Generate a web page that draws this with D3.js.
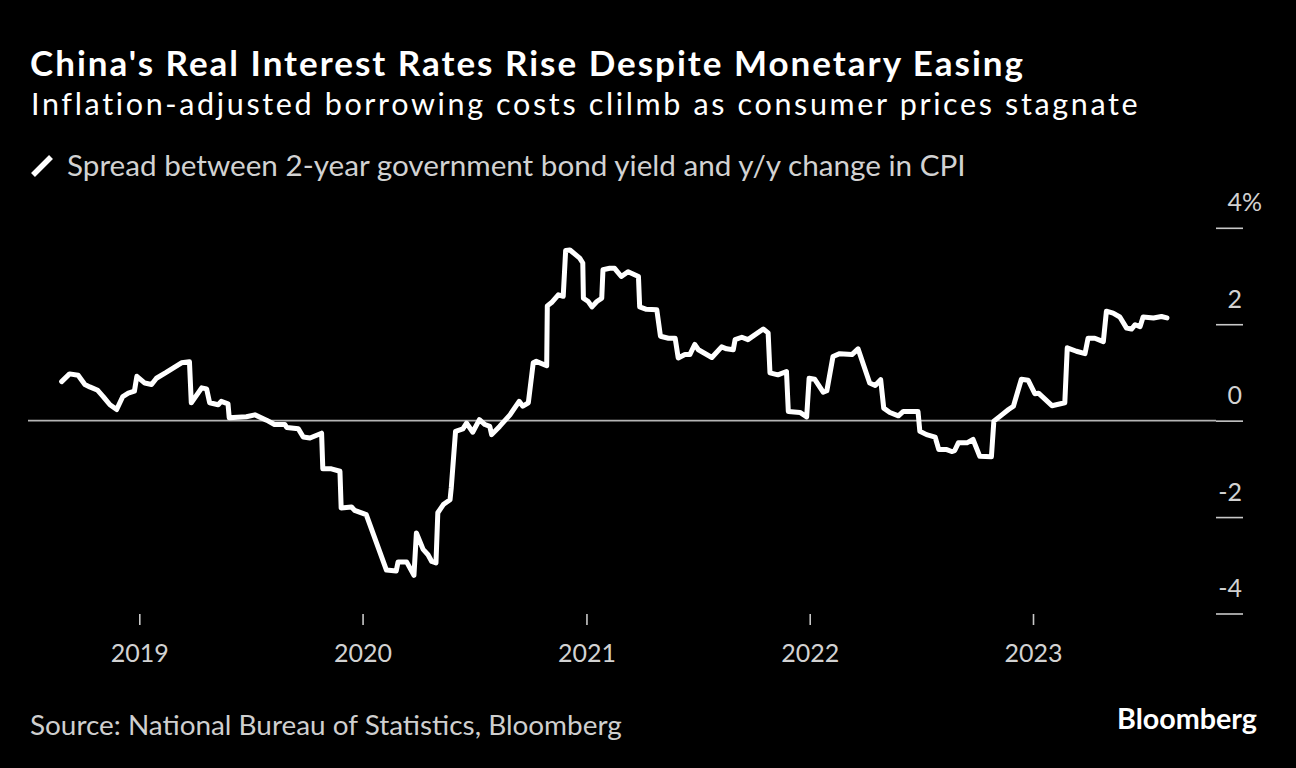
<!DOCTYPE html>
<html>
<head>
<meta charset="utf-8">
<script src="https://cdn.jsdelivr.net/npm/d3@7"></script>
<style>
  html, body { margin: 0; padding: 0; background: #000; }
  svg { display: block; }
  text { font-family: Lato, "Noto Sans", sans-serif; }
</style>
</head>
<body>
<svg id="chart" width="1296" height="768"></svg>
<script>
const title = "China's Real Interest Rates Rise Despite Monetary Easing";
const subtitle = "Inflation-adjusted borrowing costs clilmb as consumer prices stagnate";
const legendLabel = "Spread between 2-year government bond yield and y/y change in CPI";
const sourceText = "Source: National Bureau of Statistics, Bloomberg";
const brand = "Bloomberg";

const yTicks = [4, 2, 0, -2, -4];
const xTicks = ["2019-01-01", "2020-01-01", "2021-01-01", "2022-01-01", "2023-01-01"];
const xTickLabels = ["2019", "2020", "2021", "2022", "2023"];

const dates = [
"2018-08-27","2018-09-09","2018-09-23","2018-10-04","2018-10-12","2018-10-25","2018-11-03","2018-11-14","2018-11-25","2018-12-05",
"2018-12-14","2018-12-24","2018-12-28","2019-01-10","2019-01-21","2019-01-29","2019-02-14","2019-03-11","2019-03-24","2019-03-27",
"2019-04-13","2019-04-21","2019-04-26","2019-05-10","2019-05-15","2019-05-26","2019-05-28","2019-06-25","2019-07-09","2019-07-28",
"2019-08-10","2019-08-27","2019-08-30","2019-09-18","2019-09-26","2019-10-07","2019-10-26","2019-10-28","2019-11-11","2019-11-25",
"2019-11-27","2019-12-14","2019-12-19","2020-01-07","2020-02-09","2020-02-25","2020-02-28","2020-03-13","2020-03-25","2020-03-29",
"2020-04-09","2020-04-17","2020-04-23","2020-04-30","2020-05-03","2020-05-12","2020-05-23","2020-05-25","2020-06-01","2020-06-13",
"2020-06-19","2020-06-29","2020-07-10","2020-07-19","2020-07-27","2020-07-30","2020-08-12","2020-08-29","2020-09-13","2020-09-19",
"2020-09-28","2020-10-06","2020-10-11","2020-10-28","2020-10-29","2020-11-05","2020-11-16","2020-11-24","2020-11-28","2020-12-05",
"2020-12-21","2020-12-26","2020-12-27","2021-01-04","2021-01-10","2021-01-18","2021-01-26","2021-01-28","2021-02-08","2021-02-16",
"2021-02-27","2021-03-10","2021-03-27","2021-03-29","2021-04-09","2021-04-26","2021-05-02","2021-05-15","2021-05-26","2021-05-31",
"2021-06-11","2021-06-19","2021-06-27","2021-07-03","2021-07-25","2021-08-10","2021-08-18","2021-08-29","2021-09-01","2021-09-12",
"2021-09-22","2021-10-17","2021-10-25","2021-10-28","2021-11-10","2021-11-24","2021-11-27","2021-12-16","2021-12-27","2021-12-31",
"2022-01-09","2022-01-23","2022-01-29","2022-02-08","2022-02-19","2022-03-11","2022-03-21","2022-04-09","2022-04-18","2022-04-27",
"2022-05-02","2022-05-12","2022-05-26","2022-06-03","2022-06-27","2022-06-30","2022-07-11","2022-07-25","2022-07-31","2022-08-13",
"2022-08-21","2022-08-26","2022-09-01","2022-09-15","2022-09-25","2022-10-06","2022-10-25","2022-10-29","2022-11-11","2022-11-22",
"2022-11-30","2022-12-13","2022-12-24","2023-01-04","2023-01-10","2023-02-01","2023-02-22","2023-02-26","2023-03-13","2023-03-27",
"2023-04-01","2023-04-12","2023-04-26","2023-05-01","2023-05-12","2023-05-23","2023-06-03","2023-06-11","2023-06-17","2023-06-25",
"2023-06-30","2023-07-17","2023-07-30","2023-08-08"
];

const spread = [
0.81,0.97,0.94,0.75,0.70,0.63,0.50,0.33,0.23,0.50,
0.57,0.61,0.92,0.78,0.75,0.88,1.00,1.20,1.22,0.37,
0.68,0.66,0.37,0.33,0.40,0.35,0.06,0.08,0.12,0.01,
-0.08,-0.08,-0.14,-0.17,-0.34,-0.36,-0.26,-1.00,-1.00,-1.05,
-1.81,-1.79,-1.86,-1.95,-3.10,-3.12,-2.93,-2.93,-3.21,-2.33,
-2.67,-2.78,-2.92,-2.95,-1.91,-1.74,-1.64,-1.39,-0.22,-0.17,
-0.05,-0.24,0.02,-0.08,-0.12,-0.29,-0.12,0.12,0.40,0.30,
0.37,1.20,1.23,1.14,2.38,2.45,2.61,2.58,3.53,3.54,
3.37,3.27,2.54,2.47,2.36,2.47,2.54,3.13,3.16,3.16,
2.99,3.09,2.99,2.36,2.31,2.30,1.75,1.71,1.71,1.30,
1.37,1.37,1.58,1.47,1.31,1.53,1.49,1.47,1.68,1.73,
1.68,1.90,1.82,0.99,0.95,1.02,0.19,0.17,0.08,0.88,
0.86,0.59,0.62,1.33,1.39,1.37,1.49,0.78,0.73,0.85,
0.26,0.17,0.10,0.19,0.19,-0.22,-0.29,-0.34,-0.60,-0.60,
-0.64,-0.62,-0.46,-0.46,-0.39,-0.74,-0.75,-0.01,0.12,0.23,
0.30,0.86,0.84,0.56,0.57,0.31,0.37,1.51,1.44,1.39,
1.71,1.71,1.64,2.27,2.23,2.15,1.92,1.90,1.99,1.95,
2.15,2.13,2.16,2.13
];

const parse = d3.utcParse("%Y-%m-%d");
const data = dates.map((d, i) => ({ date: parse(d), value: spread[i] }));

const svg = d3.select("#chart");
svg.append("rect").attr("width", 1296).attr("height", 768).attr("fill", "#000");

// Fit text to a target width; cap font size and spread letters if needed.
function fit(sel, w, maxSize) {
  const n = sel.node();
  const fs = parseFloat(sel.attr("font-size"));
  const cur = n.getComputedTextLength();
  if (cur <= 0) return sel;
  let size = fs * w / cur;
  if (maxSize && size > maxSize) {
    size = maxSize;
    sel.attr("font-size", size.toFixed(2));
    const len = n.getComputedTextLength();
    const chars = sel.text().length;
    sel.attr("letter-spacing", ((w - len) / chars).toFixed(3));
  } else {
    sel.attr("font-size", size.toFixed(2));
  }
  return sel;
}

// Header
fit(svg.append("text").attr("x", 30).attr("y", 76).attr("fill", "#fff")
  .attr("font-weight", 700).attr("font-size", 35).text(title), 995, 35);
fit(svg.append("text").attr("x", 31).attr("y", 115).attr("fill", "#fff")
  .attr("font-weight", 400).attr("font-size", 30.5).text(subtitle), 1110, 30.5);

// Legend
svg.append("line").attr("x1", 33).attr("y1", 175).attr("x2", 51).attr("y2", 157)
  .attr("stroke", "#fff").attr("stroke-width", 5.5);
fit(svg.append("text").attr("x", 67).attr("y", 176).attr("fill", "#d2d2d2")
  .attr("font-size", 28).text(legendLabel), 899);

// Scales
const x = d3.scaleUtc()
  .domain([parse(xTicks[0]), parse(xTicks[xTicks.length - 1])])
  .range([139.3, 1033]);
const y = d3.scaleLinear().domain([-4, 4]).range([613.5, 227.8]);

// Zero line
svg.append("line").attr("x1", 28).attr("x2", 1216).attr("y1", y(0)).attr("y2", y(0))
  .attr("stroke", "#b5b5b5").attr("stroke-width", 1.6);

// Y axis
const yAxis = d3.axisLeft(y).tickValues(yTicks).tickSize(27).tickFormat(d => d);
const gy = svg.append("g").attr("transform", "translate(1243,0)").call(yAxis);
gy.select(".domain").remove();
gy.selectAll(".tick line").attr("stroke", "#c8c8c8").attr("stroke-width", 1.6);
gy.selectAll(".tick text")
  .attr("x", -1).attr("dy", 0).attr("y", -17)
  .attr("text-anchor", "end")
  .attr("fill", "#d2d2d2").attr("font-size", 25)
  .attr("font-family", "Lato, 'Noto Sans', sans-serif");
gy.selectAll(".tick").filter(d => d === yTicks[0]).append("text")
  .attr("x", -1).attr("y", -17).attr("text-anchor", "start")
  .attr("fill", "#d2d2d2").attr("font-size", 25)
  .attr("font-family", "Lato, 'Noto Sans', sans-serif").text("%");

// X axis
const xAxis = d3.axisBottom(x).tickValues(xTicks.map(parse)).tickSize(11)
  .tickFormat((d, i) => xTickLabels[i]);
const gx = svg.append("g").attr("transform", "translate(0,614)").call(xAxis);
gx.select(".domain").remove();
gx.selectAll(".tick line").attr("stroke", "#c8c8c8").attr("stroke-width", 1.6);
gx.selectAll(".tick text")
  .attr("y", 48).attr("dy", 0)
  .attr("fill", "#d2d2d2").attr("font-size", 25)
  .attr("font-family", "Lato, 'Noto Sans', sans-serif");

// Line
const line = d3.line().x(d => x(d.date)).y(d => y(d.value));
svg.append("path").datum(data).attr("d", line)
  .attr("fill", "none").attr("stroke", "#fff").attr("stroke-width", 5)
  .attr("stroke-linejoin", "round").attr("stroke-linecap", "round");

// Footer
fit(svg.append("text").attr("x", 30).attr("y", 735).attr("fill", "#cfcfcf")
  .attr("font-size", 27).text(sourceText), 592);
fit(svg.append("text").attr("x", 1257).attr("y", 729).attr("fill", "#fff")
  .attr("text-anchor", "end").attr("font-weight", 700)
  .attr("font-family", "Roboto, 'Liberation Sans', sans-serif")
  .attr("font-size", 26).text(brand), 140);
</script>
</body>
</html>
